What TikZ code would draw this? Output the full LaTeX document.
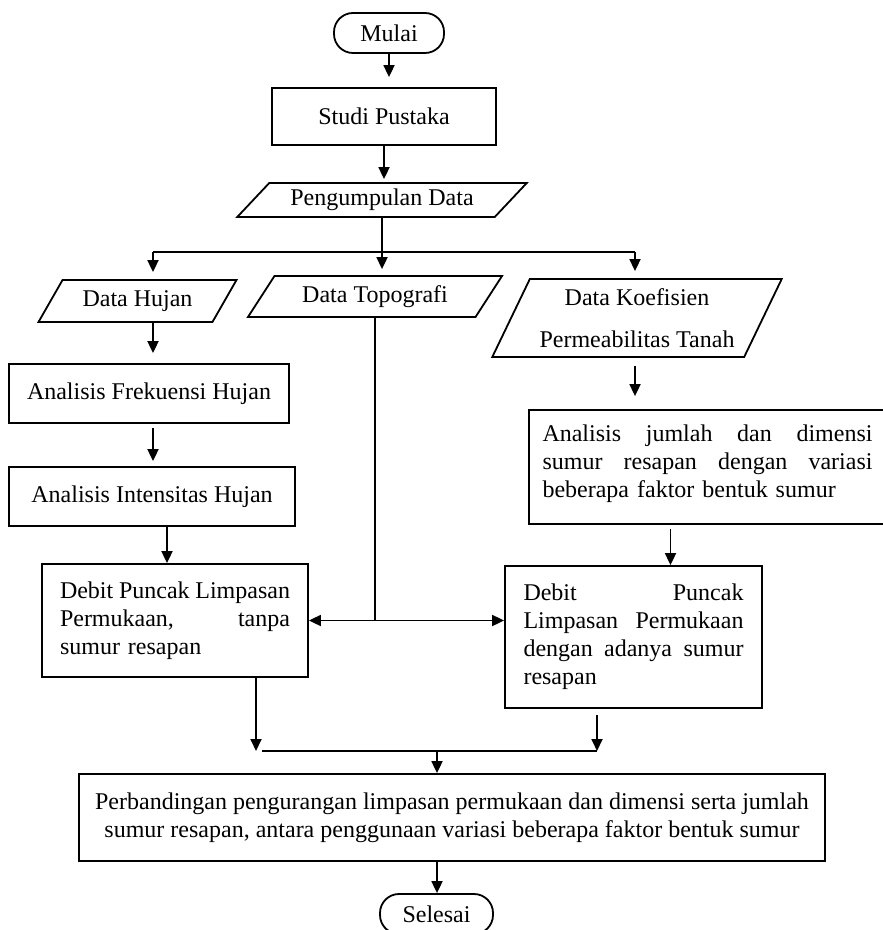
\documentclass[tikz,border=0pt]{standalone}
\usepackage{fontspec}
\setmainfont{Liberation Serif}
\usetikzlibrary{shapes.geometric,arrows.meta,calc}

\begin{document}
\begin{tikzpicture}[x=0.5pt,y=-0.5pt,
    every node/.style={font=\fontsize{12}{14}\selectfont, inner sep=0pt},
    garis/.style={line width=0.9pt},
    panah/.style={garis, -{Triangle[length=6pt,width=5.5pt]}},
    proses/.style={draw, garis, rectangle},
    terminal/.style={draw, garis, rectangle, rounded corners=9.5pt, minimum width=55pt, minimum height=20pt},
    masukan/.style={draw, garis, trapezium, trapezium stretches=true}]
    \useasboundingbox (0,0) rectangle (882,930);
    \node[terminal] (mulai) at (389,33) {Mulai};
    \node[proses, minimum width=112pt, minimum height=28.5pt] (studi) at (384,116.5) {Studi Pustaka};
    \node[masukan, trapezium left angle=40, trapezium right angle=140, minimum width=145pt, minimum height=17pt] (kumpul) at (382,200) {Pengumpulan Data};
    \node[masukan, trapezium left angle=50, trapezium right angle=130, minimum width=99.5pt, minimum height=21pt] (hujan) at (137.5,301) {Data Hujan};
    \node[masukan, trapezium left angle=49, trapezium right angle=131, minimum width=128pt, minimum height=20.5pt] (topo) at (375,296.5) {Data Topografi};
    \node[masukan, trapezium left angle=60, trapezium right angle=120, minimum width=145pt, minimum height=39pt, align=center] (koef) at (637,318) {Data Koefisien\\[7pt]Permeabilitas Tanah};
    \node[proses, minimum width=140pt, minimum height=29.5pt] (frek) at (149,393.5) {Analisis Frekuensi Hujan};
    \node[proses, minimum width=143pt, minimum height=29.5pt] (inten) at (152,496.5) {Analisis Intensitas Hujan};
    \node[proses, minimum width=133pt, minimum height=56.5pt, text width=115pt, align=left] (debitL) at (175,620.5) {Debit\hfill Puncak\hfill Limpasan\\Permukaan,\hfill tanpa\\sumur resapan};
    \node[proses, minimum width=178.5pt, minimum height=57pt, text width=165pt, align=left] (jumlah) at (707.5,467) {Analisis\hfill jumlah\hfill dan\hfill dimensi\\sumur\hfill resapan\hfill dengan\hfill variasi\\beberapa faktor bentuk sumur\\[-8pt]\mbox{}};
    \node[proses, minimum width=128.5pt, minimum height=71pt, text width=110pt, align=left] (debitR) at (633.5,637) {Debit\hfill Puncak\\Limpasan\hfill Permukaan\\dengan\hfill adanya\hfill sumur\\resapan};
    \node[proses, minimum width=373pt, minimum height=43.5pt, align=center] (banding) at (452,817.5) {Perbandingan pengurangan limpasan permukaan dan dimensi serta jumlah\\sumur resapan, antara penggunaan variasi beberapa faktor bentuk sumur};
    \node[terminal, minimum width=56.5pt] (selesai) at (436.5,914) {Selesai};
    \coordinate (cabang) at ($(kumpul.south)+(0,35)$);
    \coordinate (cabangkiri) at (153,252);
    \coordinate (cabangkanan) at (635,252);
    \coordinate (temu) at (topo.south |- debitL.east);
    \coordinate (tengah) at ($(jumlah.south)!.5!(debitR.north)$);
    \coordinate (gabungkiri) at (256,751);
    \coordinate (gabungkanan) at (597,751);
    \coordinate (gabung) at (437,751);
    \draw[panah, shorten >=5pt] (mulai.south) -- (mulai.south |- studi.north);
    \draw[panah, shorten >=1.5pt] (studi.south) -- (studi.south |- kumpul.north);
    \draw[garis] (kumpul.south) -- (cabang);
    \draw[garis] (cabangkiri) -- (cabangkanan);
    \draw[panah, shorten >=3.5pt] (cabangkiri) -- (cabangkiri |- hujan.north);
    \draw[panah, shorten >=3pt] (cabang) -- (cabang |- topo.north);
    \draw[panah, shorten >=3.5pt] (cabangkanan) -- (cabangkanan |- koef.north);
    \draw[panah, shorten >=5pt] (hujan.south -| cabangkiri) -- (cabangkiri |- frek.north);
    \draw[panah, shorten <=2pt, shorten >=2.5pt] (frek.south -| cabangkiri) -- (cabangkiri |- inten.north);
    \draw[panah] ([xshift=7.5pt]inten.south) -- ([xshift=7.5pt]inten.south |- debitL.north);
    \draw[garis] (topo.south) -- (temu);
    \draw[panah] (temu) -- (debitL.east);
    \draw[panah] (temu) -- (temu -| debitR.west);
    \draw[panah, shorten <=4pt, shorten >=6.5pt] (koef.south -| cabangkanan) -- (cabangkanan |- jumlah.north);
    \draw[panah, shorten <=2pt] (tengah |- jumlah.south) -- (tengah |- debitR.north);
    \draw[panah] (debitL.south -| gabungkiri) -- (gabungkiri);
    \draw[panah, shorten <=3pt] (debitR.south -| gabungkanan) -- (gabungkanan);
    \draw[garis] ([xshift=3pt]gabungkiri) -- (gabungkanan);
    \draw[panah] (gabung) -- (gabung |- banding.north);
    \draw[panah] (banding.south -| gabung) -- (gabung |- selesai.north);
\end{tikzpicture}
\end{document}
